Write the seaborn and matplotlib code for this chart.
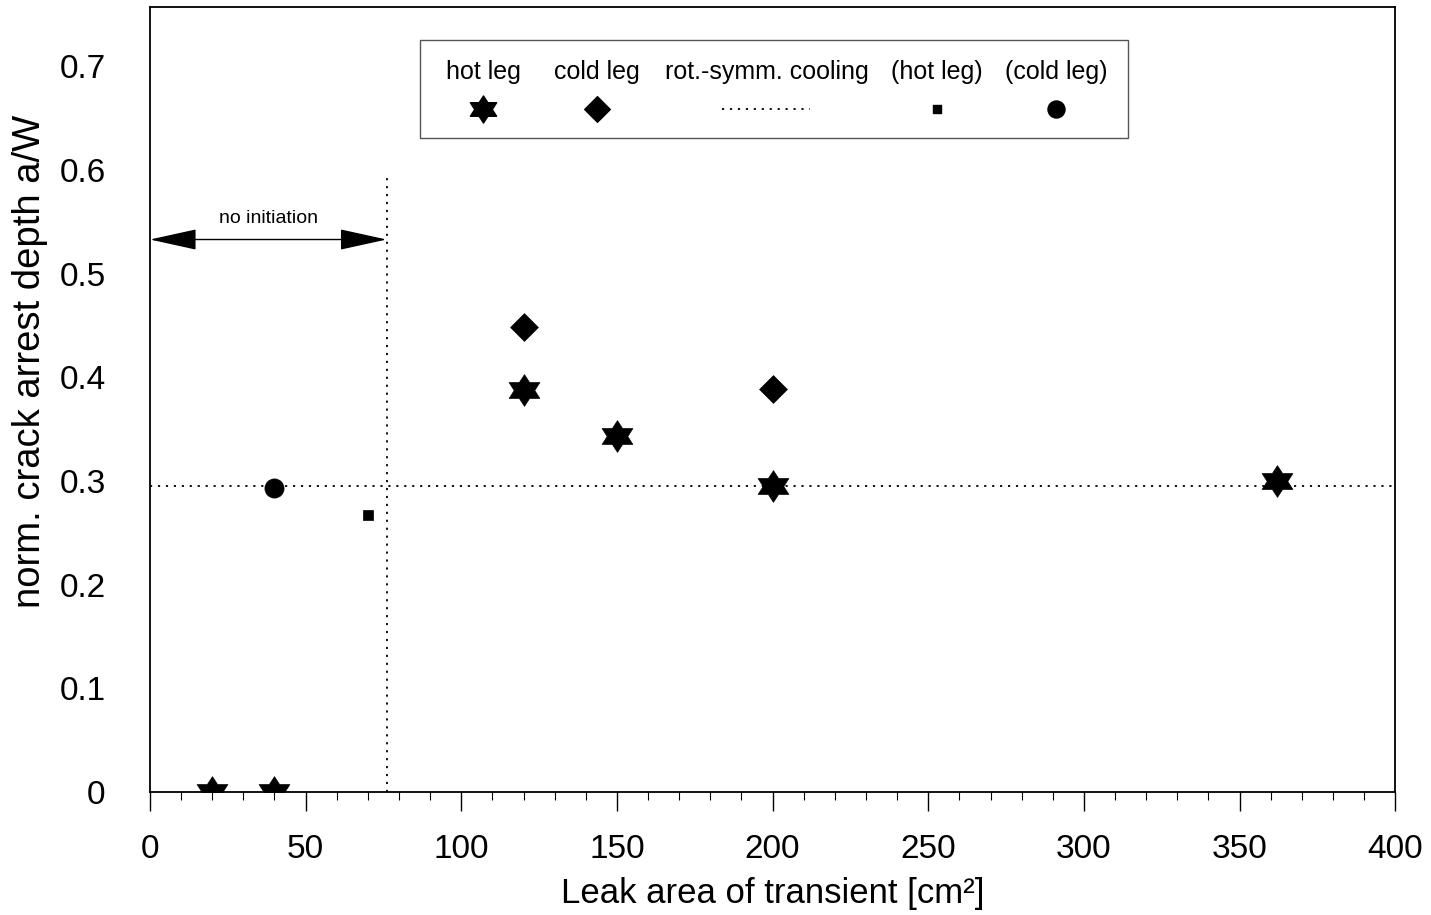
import matplotlib
matplotlib.use("Agg")
import matplotlib.pyplot as plt
from matplotlib.path import Path
from matplotlib.patches import Rectangle
import seaborn as sns
import pandas as pd

# Crack arrest results per leak area
hot_leg_x = [20, 40, 120, 150, 200, 362]
hot_leg_y = [0.0, 0.0, 0.388, 0.343, 0.295, 0.300]
cold_leg_x = [120, 200]
cold_leg_y = [0.449, 0.389]
hot_leg_sym_x = [70]
hot_leg_sym_y = [0.267]
cold_leg_sym_x = [40]
cold_leg_sym_y = [0.293]

cooling_level = 0.295        # rotationally symmetric cooling
initiation_limit = 76        # leak area below which no initiation occurs
initiation_top = 0.595
arrow_level = 0.533

x_ticks = [0, 50, 100, 150, 200, 250, 300, 350, 400]
y_ticks = [0, 0.1, 0.2, 0.3, 0.4, 0.5, 0.6, 0.7]

sns.set_theme(style="white")
plt.rcParams["font.family"] = ["Liberation Sans", "DejaVu Sans"]
plt.rcParams["text.color"] = "black"
plt.rcParams["axes.labelcolor"] = "black"
plt.rcParams["xtick.color"] = "black"
plt.rcParams["ytick.color"] = "black"

# six-pointed star, slightly widened
_star = Path.unit_regular_star(6, 0.58)
hexagram = Path(_star.vertices * [1.12, 1.0], _star.codes)

fig = plt.figure(figsize=(14.31, 9.15), dpi=100)
ax = fig.add_axes([0.1048, 0.1344, 0.8702, 0.8576])

df_hot = pd.DataFrame({"x": hot_leg_x, "y": hot_leg_y})
df_cold = pd.DataFrame({"x": cold_leg_x, "y": cold_leg_y})
df_hot_s = pd.DataFrame({"x": hot_leg_sym_x, "y": hot_leg_sym_y})
df_cold_s = pd.DataFrame({"x": cold_leg_sym_x, "y": cold_leg_sym_y})

# Reference lines
ax.axhline(cooling_level, color="black", lw=1.3, ls=(0, (1.2, 3.2)), zorder=2)
ax.plot([initiation_limit, initiation_limit], [0, initiation_top],
        color="black", lw=1.3, ls=(0, (1.2, 3.2)), zorder=2)

sns.scatterplot(data=df_hot, x="x", y="y", marker=hexagram, s=520,
                color="black", edgecolor="black", linewidth=0.5, ax=ax, zorder=4)
sns.scatterplot(data=df_cold, x="x", y="y", marker="D", s=200,
                color="black", edgecolor="black", linewidth=0.5, ax=ax, zorder=4)
sns.scatterplot(data=df_hot_s, x="x", y="y", marker="s", s=45,
                color="black", edgecolor="black", linewidth=0.5, ax=ax, zorder=4)
sns.scatterplot(data=df_cold_s, x="x", y="y", marker="o", s=190,
                color="black", edgecolor="black", linewidth=0.5, ax=ax, zorder=4)
for coll in ax.collections:
    coll.set_clip_on(True)
    coll.set_clip_box(ax.bbox)

# "no initiation" double arrow
ax.annotate("", xy=(0, arrow_level), xytext=(initiation_limit, arrow_level),
            arrowprops=dict(arrowstyle="<|-|>,head_length=1.0,head_width=0.22",
                            mutation_scale=30, color="black", lw=1.0,
                            shrinkA=0, shrinkB=0), zorder=3)
ax.text(initiation_limit / 2, 0.553, "no initiation", ha="center", va="center",
        fontsize=14, color="black")

ax.set_xlim(0, 400)
ax.set_ylim(0, 0.757)
ax.set_xticks(x_ticks)
ax.set_xticklabels([str(v) for v in x_ticks])
ax.set_xticks(range(0, 401, 10), minor=True)
ax.set_yticks(y_ticks)
ax.set_yticklabels(["0"] + [f"{v:.1f}" for v in y_ticks[1:]])
ax.tick_params(axis="x", which="major", direction="out", length=14, width=1,
               bottom=True, labelsize=24, pad=16, color="black")
ax.tick_params(axis="x", which="minor", direction="out", length=6, width=0.8,
               bottom=True, color="black")
ax.tick_params(axis="y", which="both", length=0, labelsize=24, pad=32)
for sp in ax.spines.values():
    sp.set_color("black")
    sp.set_linewidth(1.3)

ax.set_xlabel("Leak area of transient [cm²]", fontsize=25, va="center")
ax.xaxis.set_label_coords(0.5, -0.1287)
ax.set_ylabel("norm. crack arrest depth a/W", fontsize=27.5, va="center")
ax.yaxis.set_label_coords(-0.0964, 0.549)

# Legend box: labels above their symbols
tr = ax.transAxes
ax.add_patch(Rectangle((0.2169, 0.834), 0.5686, 0.124, transform=tr,
                       facecolor="white", edgecolor="#555555", lw=1.0, zorder=5))
label_x = [0.2675, 0.359, 0.4956, 0.632, 0.7277]
labels = ["hot leg", "cold leg", "rot.-symm. cooling", "(hot leg)", "(cold leg)"]
for lx, lab in zip(label_x, labels):
    ax.text(lx, 0.917, lab, transform=tr, ha="center", va="center",
            fontsize=18, zorder=6)
ax.scatter([label_x[0]], [0.871], transform=tr, marker=hexagram, s=380,
           color="black", zorder=6, clip_on=False)
ax.scatter([label_x[1]], [0.871], transform=tr, marker="D", s=170,
           color="black", zorder=6, clip_on=False)
ax.plot([0.4594, 0.530], [0.871, 0.871], transform=tr, color="black",
        lw=1.3, ls=(0, (1.2, 3.2)), zorder=6)
ax.scatter([label_x[3]], [0.871], transform=tr, marker="s", s=30,
           color="black", zorder=6, clip_on=False)
ax.scatter([label_x[4]], [0.871], transform=tr, marker="o", s=150,
           color="black", zorder=6, clip_on=False)

fig.savefig("out.png", dpi=100)
